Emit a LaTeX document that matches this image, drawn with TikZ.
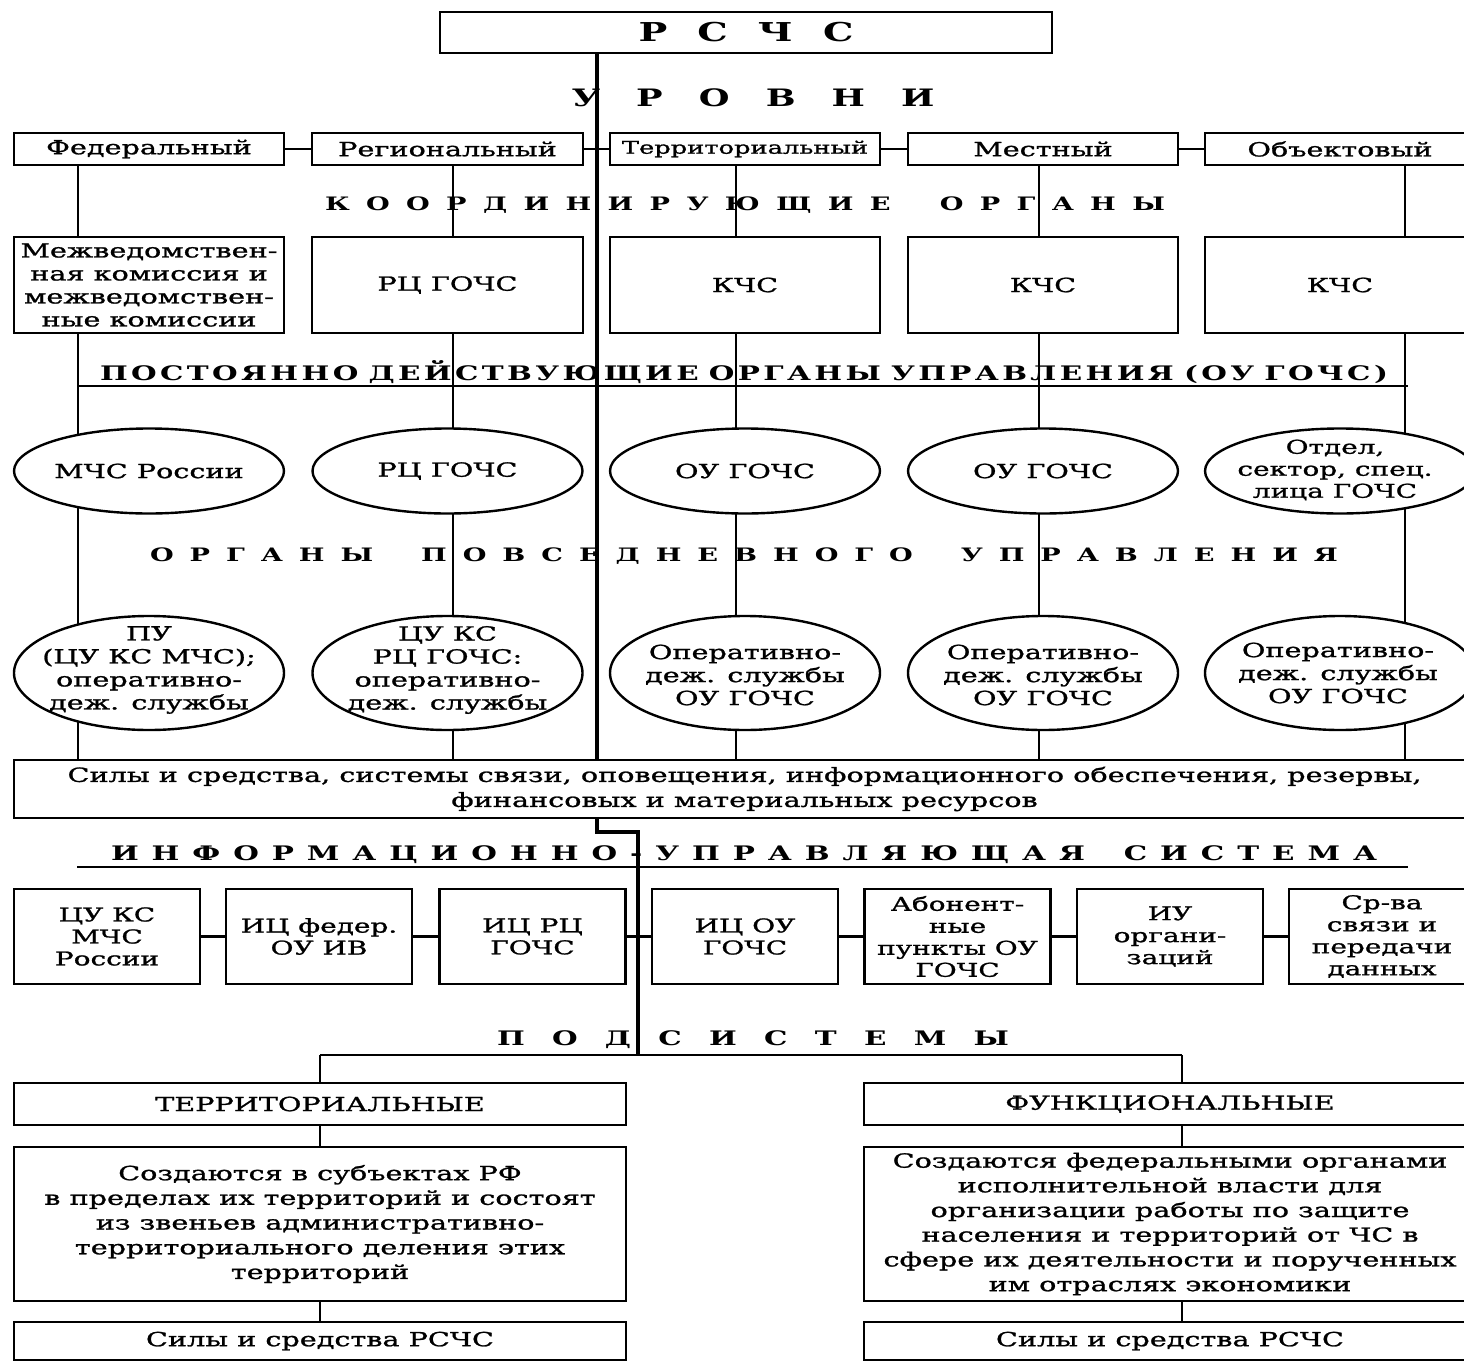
\documentclass[tikz,border=0pt]{standalone}
\usepackage{fontspec}
\setmainfont[FakeStretch=1.47, UprightFeatures={FakeBold=1.2}]{DejaVu Serif}
\usetikzlibrary{shapes.geometric,backgrounds}
\newcommand\lsp[2]{\makebox[#1][s]{\lspa#2\relax}}
\def\lspa#1{#1\lspb}
\def\lspb#1{\ifx#1\relax\else\ifx#1|\hfil\hfil\else\hfil#1\fi\expandafter\lspb\fi}
\begin{document}
\begin{tikzpicture}[x=1pt,y=-1pt,
  bx/.style={draw, line width=2.4pt, fill=white, inner sep=1pt, align=center, font=\fontsize{19.5}{23}\selectfont},
  el/.style={ellipse, draw, line width=2.4pt, fill=white, inner sep=0pt, minimum width=270pt},
  tx/.style={align=center, inner sep=0pt, font=\fontsize{19.5}{23}\selectfont},
  ln/.style={line width=2.4pt},
  hd/.style={inner sep=0pt},
  hdf/.style={font=\bfseries\fontsize{#1}{#1}\selectfont}]
\useasboundingbox (0,0) rectangle (1464,1362);
\clip (0,0) rectangle (1464,1362);
% top
\node[bx, minimum width=612pt, minimum height=41pt, font=\bfseries\fontsize{26}{30}\selectfont] (top) at (746,32.5) {\lsp{215pt}{РСЧС}};
\node[hd, hdf=24] (hlev) at (753,98) {\lsp{363pt}{УРОВНИ}};
% levels
\node[bx, minimum width=270pt, minimum height=32pt] (lfed) at (149,149) {Федеральный};
\node[bx, minimum width=271pt, minimum height=32pt] (lreg) at (447.5,149) {Региональный};
\node[bx, minimum width=270pt, minimum height=32pt, font=\fontsize{17.5}{20}\selectfont] (lter) at (745,149) {Территориальный};
\node[bx, minimum width=270pt, minimum height=32pt] (lmes) at (1043,149) {Местный};
\node[bx, minimum width=270pt, minimum height=32pt] (lobj) at (1340,149) {Объектовый};
\node[hd, hdf=18.5] (hcoord) at (745,205) {\lsp{840pt}{КООРДИНИРУЮЩИЕ|ОРГАНЫ}};
% coordinating
\node[bx, minimum width=270pt, minimum height=96pt] (cfed) at (149,285) {Межведомствен-\\ная комиссия и\\межведомствен-\\ные комиссии};
\node[bx, minimum width=271pt, minimum height=96pt] (creg) at (447.5,285) {РЦ ГОЧС};
\node[bx, minimum width=270pt, minimum height=96pt] (cter) at (745,285) {КЧС};
\node[bx, minimum width=270pt, minimum height=96pt] (cmes) at (1043,285) {КЧС};
\node[bx, minimum width=270pt, minimum height=96pt] (cobj) at (1340,285) {КЧС};
\node[hd, hdf=20] (hperm) at (744,372) {\lsp{1288pt}{ПОСТОЯННО|ДЕЙСТВУЮЩИЕ|ОРГАНЫ|УПРАВЛЕНИЯ|(ОУ|ГОЧС)}};
\coordinate (pL) at (78,386);
\coordinate (pR) at (1408,386);
% ellipses row 1
\node[el, minimum height=85pt] (e1) at (149,471) {};
\node[el, minimum height=85pt] (e2) at (447.5,471) {};
\node[el, minimum height=85pt] (e3) at (745,471) {};
\node[el, minimum height=85pt] (e4) at (1043,471) {};
\node[el, minimum height=85pt] (e5) at (1340,471) {};
\node[tx] (e1t) at (e1) {МЧС России};
\node[tx] (e2t) at (e2) {РЦ ГОЧС};
\node[tx] (e3t) at (e3) {ОУ ГОЧС};
\node[tx] (e4t) at (e4) {ОУ ГОЧС};
\node[tx, font=\fontsize{19}{22}\selectfont] (e5t) at (1335,470) {Отдел,\\сектор, спец.\\лица ГОЧС};
\node[hd, hdf=18.5] (hday) at (744,556) {\lsp{1188pt}{ОРГАНЫ|ПОВСЕДНЕВНОГО|УПРАВЛЕНИЯ}};
% ellipses row 2
\node[el, minimum height=114pt] (f1) at (149,673) {};
\node[el, minimum height=114pt] (f2) at (447.5,673) {};
\node[el, minimum height=114pt] (f3) at (745,673) {};
\node[el, minimum height=114pt] (f4) at (1043,673) {};
\node[el, minimum height=114pt] (f5) at (1340,673) {};
\node[tx] (f1t) at (149,670) {ПУ\\(ЦУ КС МЧС);\\оперативно-\\деж. службы};
\node[tx] (f2t) at (447.5,670) {ЦУ КС\\РЦ ГОЧС:\\оперативно-\\деж. службы};
\node[tx] (f3t) at (745,675) {Оперативно-\\деж. службы\\ОУ ГОЧС};
\node[tx] (f4t) at (1043,675) {Оперативно-\\деж. службы\\ОУ ГОЧС};
\node[tx] (f5t) at (1338,673) {Оперативно-\\деж. службы\\ОУ ГОЧС};
% forces
\node[bx, minimum width=1461pt, minimum height=58pt, font=\fontsize{19.5}{25}\selectfont] (sily) at (744.5,789) {Силы и средства, системы связи, оповещения, информационного обеспечения, резервы,\\финансовых и материальных ресурсов};
\node[hd, hdf=20] (hinfo) at (744,855) {\lsp{1266pt}{ИНФОРМАЦИОННО-УПРАВЛЯЮЩАЯ|СИСТЕМА}};
\coordinate (uL) at (77,867);
\coordinate (uR) at (1408,867);
% info boxes
\tikzset{ib/.style={bx, minimum width=186pt, minimum height=95pt, font=\fontsize{19}{22}\selectfont}}
\node[ib] (i1) at (107,936.5) {ЦУ КС\\МЧС\\России};
\node[ib] (i2) at (319,936.5) {ИЦ федер.\\ОУ ИВ};
\node[ib] (i3) at (532.5,936.5) {ИЦ РЦ\\ГОЧС};
\node[ib] (i4) at (745,936.5) {ИЦ ОУ\\ГОЧС};
\node[ib] (i5) at (957.5,936.5) {Абонент-\\ные\\пункты ОУ\\ГОЧС};
\node[ib] (i6) at (1170,936.5) {ИУ\\органи-\\заций};
\node[ib] (i7) at (1382,936.5) {Ср-ва\\связи и\\передачи\\данных};
\node[hd, hdf=20] (hsubs) at (753,1040) {\lsp{512pt}{ПОДСИСТЕМЫ}};
% subsystems
\tikzset{sb/.style={bx, minimum width=612pt, font=\fontsize{19.5}{24.7}\selectfont}}
\node[sb, minimum height=42pt] (terr) at (320,1104) {ТЕРРИТОРИАЛЬНЫЕ};
\node[sb, minimum height=154pt] (terrd) at (320,1224) {Создаются в субъектах РФ\\в пределах их территорий и состоят\\из звеньев административно-\\территориального деления этих\\территорий};
\node[sb, minimum height=38pt] (terrs) at (320,1341) {Силы и средства РСЧС};
\node[sb, minimum height=42pt] (func) at (1170,1104) {ФУНКЦИОНАЛЬНЫЕ};
\node[sb, minimum height=154pt] (funcd) at (1170,1224) {Создаются федеральными органами\\исполнительной власти для\\организации работы по защите\\населения и территорий от ЧС в\\сфере их деятельности и порученных\\им отраслях экономики};
\node[sb, minimum height=38pt] (funcs) at (1170,1341) {Силы и средства РСЧС};
% coordinates for lines
\coordinate (xa) at (78,0);
\coordinate (xb) at (453,0);
\coordinate (xc) at (736,0);
\coordinate (xd) at (1039,0);
\coordinate (xe) at (1405,0);
\coordinate (xm) at (597,0);
\coordinate (j1) at (597,832);
\coordinate (j2) at (638,832);
\coordinate (hsub) at (0,1055);
\coordinate (fx) at (1182,0);
\begin{scope}[on background layer]
\draw[line width=3.8pt] (top.south -| xm) -- (sily.north -| xm);
\draw[ln] (lfed.south -| xa) -- (sily.north -| xa);
\draw[ln] (lreg.south -| xb) -- (sily.north -| xb);
\draw[ln] (lter.south -| xc) -- (sily.north -| xc);
\draw[ln] (lmes.south -| xd) -- (sily.north -| xd);
\draw[ln] (lobj.south -| xe) -- (sily.north -| xe);
\draw[ln] (lfed) -- (lreg);
\draw[ln] (lreg) -- (lter);
\draw[ln] (lter) -- (lmes);
\draw[ln] (lmes) -- (lobj);
\draw[ln] (pL) -- (pR);
\draw[ln] (uL) -- (uR);
\draw[line width=3.2pt] (sily.south -| xm) -- (j1) -- (j2) -- (j2 |- hsub);
\draw[ln] (i1) -- (i2);
\draw[ln] (i2) -- (i3);
\draw[ln] (i3) -- (i4);
\draw[ln] (i4) -- (i5);
\draw[ln] (i5) -- (i6);
\draw[ln] (i6) -- (i7);
\draw[ln] (terr.north |- hsub) -- (fx |- hsub);
\draw[ln] (terr.north |- hsub) -- (terr.north);
\draw[ln] (fx |- hsub) -- (func.north -| fx);
\draw[ln] (terr) -- (terrd);
\draw[ln] (terrd) -- (terrs);
\draw[ln] (func.south -| fx) -- (funcd.north -| fx);
\draw[ln] (funcd.south -| fx) -- (funcs.north -| fx);
\end{scope}
\end{tikzpicture}
\end{document}
